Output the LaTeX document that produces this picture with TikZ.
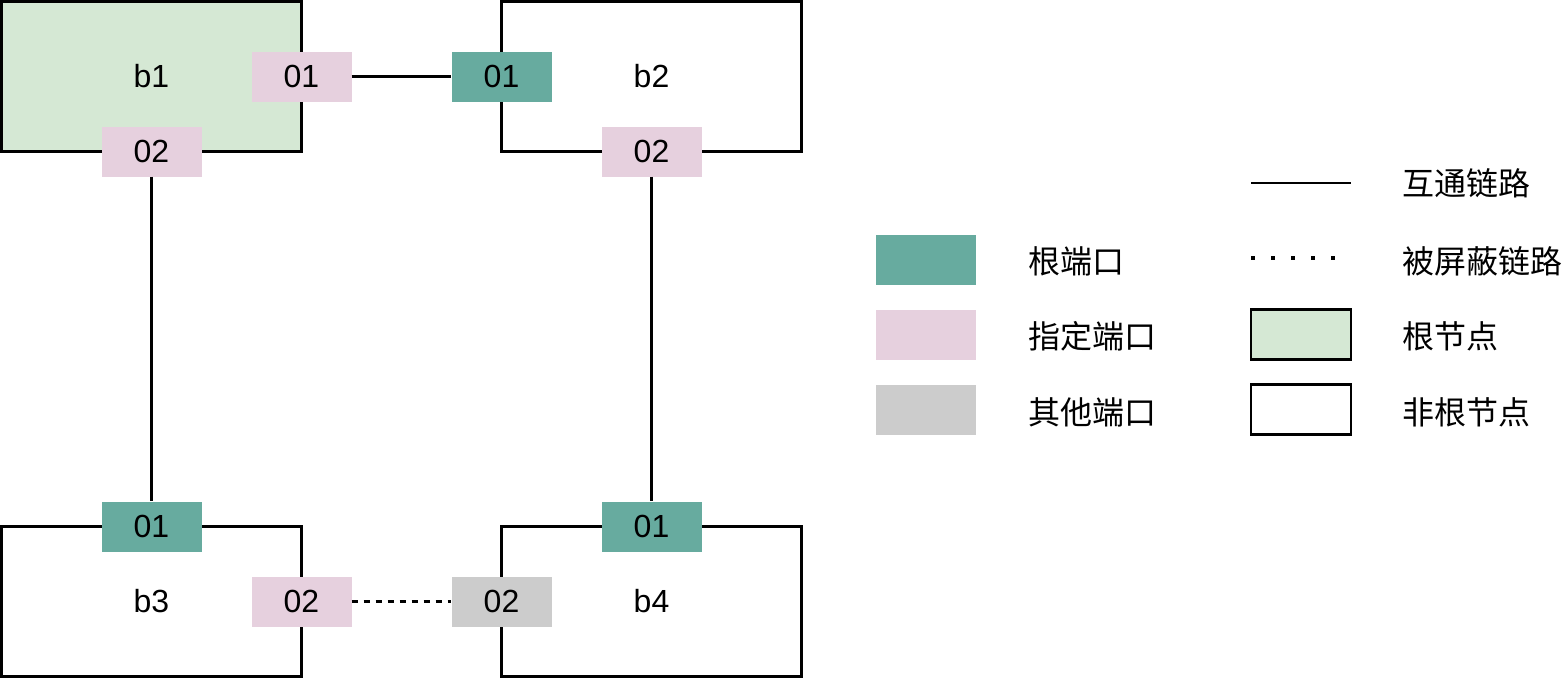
\documentclass[tikz,border=0pt]{standalone}
\usepackage{fontspec}
\setmainfont{Liberation Sans}
\newfontfamily\cjk{Noto Sans CJK SC}
\definecolor{rootport}{HTML}{67AB9F}
\definecolor{desport}{HTML}{E6D0DE}
\definecolor{otherport}{HTML}{CCCCCC}
\definecolor{rootnode}{HTML}{D5E8D4}
\tikzset{
  bridge/.style={draw=black, line width=2.8pt, minimum width=300pt, minimum height=150pt, inner sep=0pt, font=\fontsize{32}{38}\selectfont},
  port/.style={minimum width=100pt, minimum height=50pt, inner sep=0pt, font=\fontsize{32}{38}\selectfont},
  rp/.style={port, fill=rootport},
  dp/.style={port, fill=desport},
  op/.style={port, fill=otherport},
  link/.style={draw=black, line width=2.2pt},
  blocked/.style={draw=black, line width=2.2pt, dash pattern=on 6pt off 6pt},
  dotline/.style={draw=black, line width=3.5pt, dash pattern=on 3.5pt off 16.5pt},
  legtext/.style={anchor=base west, inner sep=0pt, font=\fontsize{32}{38}\selectfont\cjk},
  legbox/.style={minimum width=100pt, minimum height=50pt, inner sep=0pt}
}
\begin{document}
\begin{tikzpicture}[x=1pt, y=-1pt]
\useasboundingbox (0,0) rectangle (1568,678);
% bridges
\node[bridge, fill=rootnode] (b1) at (151.5,76.5) {b1};
\node[bridge, fill=white] (b2) at (651.5,76.5) {b2};
\node[bridge, fill=white] (b3) at (151.5,601.5) {b3};
\node[bridge, fill=white] (b4) at (651.5,601.5) {b4};
% ports
\node[dp] (b1p1) at (301.5,76.5) {01};
\node[rp] (b2p1) at (501.5,76.5) {01};
\node[dp] (b1p2) at (151.5,151.5) {02};
\node[dp] (b2p2) at (651.5,151.5) {02};
\node[rp] (b3p1) at (151.5,526.5) {01};
\node[rp] (b4p1) at (651.5,526.5) {01};
\node[dp] (b3p2) at (301.5,601.5) {02};
\node[op] (b4p2) at (501.5,601.5) {02};
% links
\draw[link] (b1p1.east) -- (b2p1.west);
\draw[link] (b1p2.south) -- (b3p1.north);
\draw[link] (b2p2.south) -- (b4p1.north);
\draw[blocked] (b3p2.east) -- (b4p2.west);
% legend left
\node[legbox, fill=rootport] (lrp) at (926,259.5) {};
\node[legbox, fill=desport] (ldp) at (926,334.5) {};
\node[legbox, fill=otherport] (lop) at (926,409.5) {};
\node[legtext] (lrpt) at (1028,273) {根端口};
\node[legtext] (ldpt) at (1028,348) {指定端口};
\node[legtext] (lopt) at (1028,424) {其他端口};
% legend right
\coordinate (la1) at (1251,183);
\coordinate (la2) at (1351,183);
\draw[link] (la1) -- (la2);
\coordinate (lb1) at (1251,258);
\coordinate (lb2) at (1351,258);
\draw[dotline] (lb1) -- (lb2);
\node[legbox, draw=black, line width=2.8pt, fill=rootnode] (lrn) at (1301,334.5) {};
\node[legbox, draw=black, line width=2.8pt, fill=white] (lnn) at (1301,409.5) {};
\node[legtext] (lat) at (1402,195) {互通链路};
\node[legtext] (lbt) at (1402,273) {被屏蔽链路};
\node[legtext] (lrnt) at (1402,348) {根节点};
\node[legtext] (lnnt) at (1402,424) {非根节点};
\end{tikzpicture}
\end{document}
